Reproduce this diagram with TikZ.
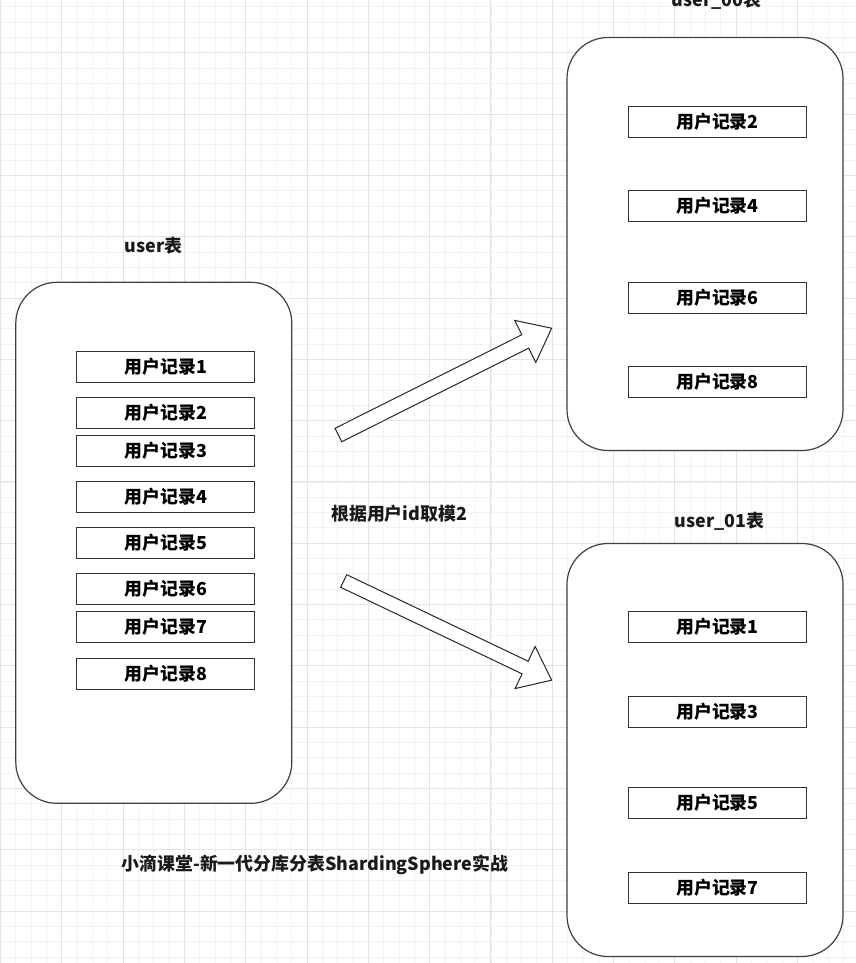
\documentclass[tikz,border=0pt]{standalone}
\usepackage{fontspec}
\setmainfont{Noto Sans CJK SC}
\usetikzlibrary{positioning}

\begin{document}
\begin{tikzpicture}[
  x=1pt, y=-1pt,
  font=\fontsize{17.9}{21}\selectfont\bfseries,
  tbl/.style={draw=black!75, line width=1.2pt, rounded corners=41pt, fill=white, minimum width=276pt, inner sep=0pt},
  rec/.style={draw=black!80, line width=1pt, fill=white, minimum width=178pt, minimum height=31pt, inner sep=0pt},
  ttl/.style={inner sep=0pt, text=black!90},
  blk/.style={draw=black!85, fill=white, line width=1pt}
]
\clip (0,0) rectangle (856,963);
% grid
\foreach \i in {0,...,56} \draw[black!5, line width=0.6pt] (0.4+\i*15.325,0) -- ++(0,963);
\foreach \j in {0,...,64} \draw[black!5, line width=0.6pt] (0,-8.6+\j*15.325) -- ++(856,0);
\foreach \i in {0,...,14} \draw[black!11, line width=0.8pt] (0.4+\i*61.3,0) -- ++(0,963);
\foreach \j in {0,...,16} \draw[black!11, line width=0.8pt] (0,-8.6+\j*61.3) -- ++(856,0);

% tables
\node[tbl, minimum height=521pt] (user) at (153.8,542.8) {};
\node[tbl, minimum height=413pt] (user00) at (705,244) {};
\node[tbl, minimum height=413pt] (user01) at (705,750) {};
\node[ttl] (userT) at (153.4,246) {user表};
\node[ttl] (user00T) at (716.7,0) {user\_00表};
\node[ttl] (user01T) at (719.7,521.7) {user\_01表};

% records
\foreach \n/\y in {1/366.8, 2/412.8, 3/451.2, 4/497, 5/543, 6/589, 7/627, 8/673.5}
  \node[rec] (u\n) at (165.8,\y) {用户记录\n};
\foreach \n/\y in {2/122, 4/206, 6/298, 8/382}
  \node[rec] (a\n) at (717.5,\y) {用户记录\n};
\foreach \n/\y in {1/627, 3/712, 5/803, 7/887.5}
  \node[rec] (b\n) at (717.5,\y) {用户记录\n};

% block arrows
\begin{scope}[shift={(338.4,435)}, rotate=26.6]
\draw[blk] (0,-7.5) -- (209,-7.5) -- (209,-23.5) -- (238.5,0) -- (209,23.5) -- (209,7.5) -- (0,7.5) -- cycle;
\end{scope}
\begin{scope}[shift={(343.7,581)}, rotate=-25.5]
\draw[blk] (0,-7) -- (201,-7) -- (201,-23.3) -- (230.4,0) -- (201,23.3) -- (201,7) -- (0,7) -- cycle;
\end{scope}

\node[ttl] (rule) at (399.2,513.3) {根据用户id取模2};
\node[ttl] (footer) at (314.8,865) {小滴课堂-新一代分库分表ShardingSphere实战};
\end{tikzpicture}
\end{document}
